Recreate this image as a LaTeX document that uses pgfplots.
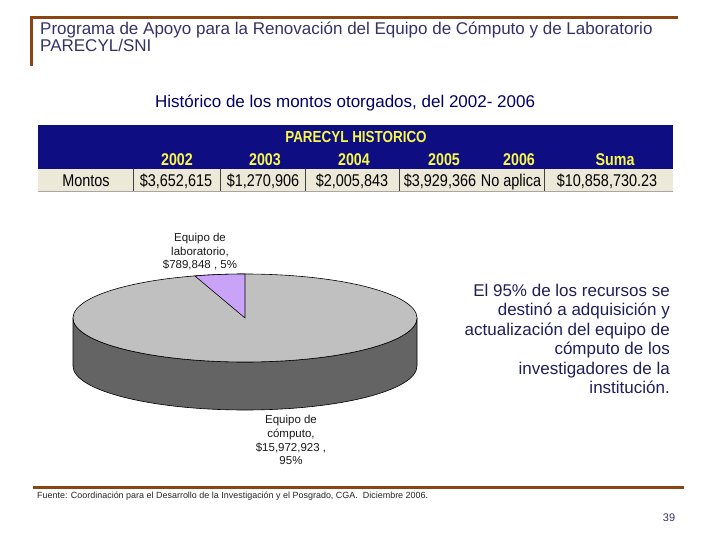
\documentclass[border=0pt]{standalone}
\usepackage{graphicx}
\usepackage{pgfplots}
\pgfplotsset{compat=1.18}
\usepackage{fontspec}
\setmainfont{Liberation Sans}
\newfontfamily\narrowfont[FakeStretch=0.85]{Liberation Sans}
\newfontfamily\narrowbold[FakeStretch=0.84]{Liberation Sans Bold}
\definecolor{brownline}{HTML}{8B4513}
\definecolor{titlecol}{HTML}{333366}
\definecolor{subcol}{HTML}{000066}
\definecolor{rightcol}{HTML}{1F1F5A}
\definecolor{navyhead}{HTML}{0E0E82}
\definecolor{yellowtxt}{HTML}{F8F84A}
\definecolor{beige}{HTML}{ECE9D8}
\definecolor{topgray}{HTML}{C0C0C0}
\definecolor{sidegray}{HTML}{646464}
\definecolor{lav}{HTML}{C9A3F7}
\definecolor{labcol}{HTML}{1A1A1A}
% pie data (millions of pesos)
\def\vComp{15.972923}
\def\vLab{0.789848}
\pgfmathsetmacro\angLab{360*\vLab/(\vLab+\vComp)}
\pgfmathsetmacro\endAng{90+\angLab}
\begin{document}
\begin{tikzpicture}
\begin{axis}[scale only axis, width=720pt, height=540pt,
  xmin=0, xmax=720, ymin=0, ymax=540, y dir=reverse,
  hide axis, clip=false]
\fill[white] (axis cs:0,0) rectangle (axis cs:720,540);
% frame lines
\fill[brownline] (axis cs:30,16) rectangle (axis cs:678,19);
\fill[brownline] (axis cs:30,16) rectangle (axis cs:33,66);
\fill[brownline] (axis cs:33,486) rectangle (axis cs:684,489);
% titles
\node[anchor=base west, inner sep=0, text=titlecol, font=\fontsize{17}{17}\selectfont] at (axis cs:40,35) {Programa de Apoyo para la Renovación del Equipo de Cómputo y de Laboratorio};
\node[anchor=base west, inner sep=0, text=titlecol, font=\fontsize{17}{17}\selectfont] at (axis cs:40,52) {PARECYL/SNI};
\node[anchor=base west, inner sep=0, text=subcol, font=\fontsize{17}{17}\selectfont] at (axis cs:155,108) {Histórico de los montos otorgados, del 2002- 2006};
% table
\fill[navyhead] (axis cs:38,125) rectangle (axis cs:673,169);
\fill[beige] (axis cs:38,169) rectangle (axis cs:673,191);
\draw[gray!70, line width=0.6pt] (axis cs:38,191) -- (axis cs:673,191);
\foreach \xs in {133,220,305,399,544}{
  \edef\tmp{\noexpand\draw[black!75, line width=0.7pt] (axis cs:\xs,169) -- (axis cs:\xs,191);}\tmp
}
\node[anchor=base, inner sep=0, text=yellowtxt, font=\narrowbold\fontsize{16}{16}\selectfont] at (axis cs:356,143) {PARECYL HISTORICO};
\node[anchor=base, inner sep=0, text=yellowtxt, font=\narrowbold\fontsize{17}{17}\selectfont] at (axis cs:177,166) {2002};
\node[anchor=base, inner sep=0, text=yellowtxt, font=\narrowbold\fontsize{17}{17}\selectfont] at (axis cs:265,166) {2003};
\node[anchor=base, inner sep=0, text=yellowtxt, font=\narrowbold\fontsize{17}{17}\selectfont] at (axis cs:354,166) {2004};
\node[anchor=base, inner sep=0, text=yellowtxt, font=\narrowbold\fontsize{17}{17}\selectfont] at (axis cs:444,166) {2005};
\node[anchor=base, inner sep=0, text=yellowtxt, font=\narrowbold\fontsize{17}{17}\selectfont] at (axis cs:519,166) {2006};
\node[anchor=base, inner sep=0, text=yellowtxt, font=\narrowbold\fontsize{17}{17}\selectfont] at (axis cs:615,166) {Suma};
\node[anchor=base, inner sep=0, text=black, font=\narrowfont\fontsize{17}{17}\selectfont] at (axis cs:86,187) {Montos};
\node[anchor=base, inner sep=0, text=black, font=\narrowfont\fontsize{17}{17}\selectfont] at (axis cs:176,187) {\$3,652,615};
\node[anchor=base, inner sep=0, text=black, font=\narrowfont\fontsize{17}{17}\selectfont] at (axis cs:263,187) {\$1,270,906};
\node[anchor=base, inner sep=0, text=black, font=\narrowfont\fontsize{17}{17}\selectfont] at (axis cs:352,187) {\$2,005,843};
\node[anchor=base, inner sep=0, text=black, font=\narrowfont\fontsize{17}{17}\selectfont] at (axis cs:440,187) {\$3,929,366};
\node[anchor=base, inner sep=0, text=black, font=\narrowfont\fontsize{17}{17}\selectfont] at (axis cs:511,187) {No aplica};
\node[anchor=base, inner sep=0, text=black, font=\narrowfont\fontsize{17}{17}\selectfont] at (axis cs:607,187) {\$10,858,730.23};
% 3D pie
\filldraw[fill=sidegray, draw=black, line width=0.6pt] (axis cs:73,318) -- (axis cs:73,366)
  arc[start angle=180, end angle=360, x radius=172pt, y radius=44pt]
  -- (axis cs:417,318)
  arc[start angle=0, end angle=-180, x radius=172pt, y radius=44pt] -- cycle;
\filldraw[fill=topgray, draw=black, line width=0.6pt] (axis cs:245,318) ellipse[x radius=172pt, y radius=44pt];
\filldraw[fill=lav, draw=black, line width=0.6pt] (axis cs:245,318) -- (axis cs:245,274)
  arc[start angle=90, end angle=\endAng, x radius=172pt, y radius=44pt] -- cycle;
% pie labels
\node[anchor=base, inner sep=0, text=labcol, font=\fontsize{11.5}{11.5}\selectfont] at (axis cs:200,241) {Equipo de};
\node[anchor=base, inner sep=0, text=labcol, font=\fontsize{11.5}{11.5}\selectfont] at (axis cs:200,255) {laboratorio,};
\node[anchor=base, inner sep=0, text=labcol, font=\fontsize{11.5}{11.5}\selectfont] at (axis cs:200,268) {\$789,848 , 5\%};
\node[anchor=base, inner sep=0, text=labcol, font=\fontsize{11.5}{11.5}\selectfont] at (axis cs:291,423) {Equipo de};
\node[anchor=base, inner sep=0, text=labcol, font=\fontsize{11.5}{11.5}\selectfont] at (axis cs:291,437) {cómputo,};
\node[anchor=base, inner sep=0, text=labcol, font=\fontsize{11.5}{11.5}\selectfont] at (axis cs:291,451) {\$15,972,923 ,};
\node[anchor=base, inner sep=0, text=labcol, font=\fontsize{11.5}{11.5}\selectfont] at (axis cs:291,464) {95\%};
% right text
\node[anchor=base east, inner sep=0, text=rightcol, font=\fontsize{17}{17}\selectfont] at (axis cs:670,296) {El 95\% de los recursos se};
\node[anchor=base east, inner sep=0, text=rightcol, font=\fontsize{17}{17}\selectfont] at (axis cs:670,315.5) {destinó a adquisición y};
\node[anchor=base east, inner sep=0, text=rightcol, font=\fontsize{17}{17}\selectfont] at (axis cs:670,335) {actualización del equipo de};
\node[anchor=base east, inner sep=0, text=rightcol, font=\fontsize{17}{17}\selectfont] at (axis cs:670,354.5) {cómputo de los};
\node[anchor=base east, inner sep=0, text=rightcol, font=\fontsize{17}{17}\selectfont] at (axis cs:670,374) {investigadores de la};
\node[anchor=base east, inner sep=0, text=rightcol, font=\fontsize{17}{17}\selectfont] at (axis cs:670,393) {institución.};
% footer
\node[anchor=base west, inner sep=0, text=black!85, font=\fontsize{8}{8}\selectfont] at (axis cs:37,498) {\resizebox{391pt}{!}{Fuente: Coordinación para el Desarrollo de la Investigación y el Posgrado, CGA.\ \ Diciembre 2006.}};
\node[anchor=base, inner sep=0, text=titlecol, font=\fontsize{11}{11}\selectfont] at (axis cs:669,521) {39};
\end{axis}
\end{tikzpicture}
\end{document}
